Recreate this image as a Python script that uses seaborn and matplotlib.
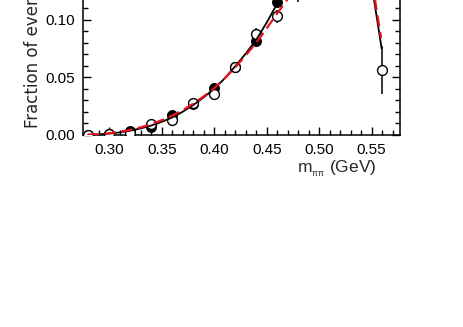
import numpy as np
import pandas as pd
import matplotlib
matplotlib.use("Agg")
import matplotlib.pyplot as plt
from matplotlib.ticker import MultipleLocator, FormatStrFormatter
import seaborn as sns

# ---- data ----
mass_filled = [0.28, 0.30, 0.32, 0.34, 0.36, 0.38, 0.40, 0.42, 0.44, 0.46]
frac_filled = [0.0000, 0.0008, 0.0035, 0.0068, 0.0168, 0.0270, 0.0406, 0.0590, 0.0817, 0.1157]
err_filled = [0.0005, 0.0007, 0.0010, 0.0015, 0.0025, 0.0035, 0.0040, 0.0045, 0.0050, 0.0055]

mass_open = [0.28, 0.30, 0.32, 0.34, 0.36, 0.38, 0.40, 0.42, 0.44, 0.46, 0.48, 0.50, 0.52, 0.54, 0.56]
frac_open = [0.0000, 0.0010, 0.0015, 0.0095, 0.0130, 0.0280, 0.0350, 0.0585, 0.0875, 0.1030,
             0.1240, 0.1500, 0.1650, 0.1500, 0.0565]
err_open = [0.0005, 0.0007, 0.0010, 0.0020, 0.0030, 0.0040, 0.0040, 0.0045, 0.0050, 0.0055,
            0.0090, 0.0090, 0.0090, 0.0100, 0.0210]

fit_solid_x = [0.280, 0.290, 0.300, 0.310, 0.320, 0.330, 0.340, 0.350, 0.360, 0.370, 0.380,
               0.390, 0.400, 0.410, 0.420, 0.430, 0.440, 0.450, 0.460, 0.470, 0.480, 0.500,
               0.520, 0.540, 0.5524, 0.5595]
fit_solid_y = [0.0000, 0.0003, 0.0010, 0.0020, 0.0035, 0.0055, 0.0080, 0.0112, 0.0150, 0.0200,
               0.0258, 0.0325, 0.0400, 0.0490, 0.0595, 0.0705, 0.0825, 0.0975, 0.1140, 0.1280,
               0.1420, 0.1630, 0.1720, 0.1580, 0.1165, 0.0750]

fit_dash_x = [0.280, 0.290, 0.300, 0.310, 0.320, 0.330, 0.340, 0.350, 0.360, 0.370, 0.380,
              0.390, 0.400, 0.410, 0.420, 0.430, 0.440, 0.450, 0.460, 0.470, 0.480, 0.500,
              0.520, 0.540, 0.5533, 0.5590]
fit_dash_y = [0.0000, 0.0005, 0.0013, 0.0025, 0.0042, 0.0064, 0.0092, 0.0126, 0.0166, 0.0214,
              0.0270, 0.0333, 0.0405, 0.0490, 0.0585, 0.0690, 0.0800, 0.0925, 0.1055, 0.1180,
              0.1320, 0.1550, 0.1700, 0.1600, 0.1165, 0.0840]

xtick_vals = [0.30, 0.35, 0.40, 0.45, 0.50, 0.55]
ytick_vals = [0.00, 0.05, 0.10, 0.15, 0.20]

# ---- style ----
sns.set_style("ticks")
plt.rcParams["font.family"] = ["Liberation Sans", "DejaVu Sans"]
plt.rcParams["mathtext.fontset"] = "custom"
plt.rcParams["mathtext.rm"] = "Liberation Sans"
plt.rcParams["mathtext.it"] = "Liberation Sans:italic"

fig = plt.figure(figsize=(4.64, 3.27), dpi=100)
ax = fig.add_axes([83 / 464, 0.588, 317 / 464, 230 / 327])

df_f = pd.DataFrame({"m": mass_filled, "f": frac_filled, "e": err_filled})
df_o = pd.DataFrame({"m": mass_open, "f": frac_open, "e": err_open})
df_s = pd.DataFrame({"m": fit_solid_x, "f": fit_solid_y})
df_d = pd.DataFrame({"m": fit_dash_x, "f": fit_dash_y})

# error bars
ax.errorbar(df_f["m"], df_f["f"], yerr=df_f["e"], fmt="none", ecolor="black",
            elinewidth=1.1, capsize=0, zorder=2)
ax.errorbar(df_o["m"], df_o["f"], yerr=df_o["e"], fmt="none", ecolor="black",
            elinewidth=1.1, capsize=0, zorder=3)

# markers
sns.scatterplot(data=df_f, x="m", y="f", ax=ax, marker="o", s=50, color="black",
                edgecolor="black", linewidth=0.8, zorder=4, legend=False)
sns.scatterplot(data=df_o, x="m", y="f", ax=ax, marker="o", s=50, color="white",
                edgecolor="black", linewidth=1.0, zorder=5, legend=False)

# fit curves
sns.lineplot(data=df_s, x="m", y="f", ax=ax, color="black", linewidth=1.3,
             sort=False, estimator=None, zorder=6)
sns.lineplot(data=df_d, x="m", y="f", ax=ax, color="#e8141c", linewidth=1.6,
             sort=False, estimator=None, zorder=7, linestyle=(0, (5, 2.5)))

ax.set_xlim(0.275, 0.577)
ax.set_ylim(0.0, 0.20)
ax.set_xticks(xtick_vals)
ax.set_yticks(ytick_vals)
ax.xaxis.set_major_formatter(FormatStrFormatter("%.2f"))
ax.yaxis.set_major_formatter(FormatStrFormatter("%.2f"))
ax.xaxis.set_minor_locator(MultipleLocator(0.01))
ax.yaxis.set_minor_locator(MultipleLocator(0.01))
ax.tick_params(which="both", direction="in", top=True, right=True, width=1.0,
               colors="black", labelsize=11)
ax.tick_params(which="major", length=6, pad=6)
ax.tick_params(which="minor", length=3.5)
for sp in ax.spines.values():
    sp.set_visible(True)
    sp.set_linewidth(1.1)
    sp.set_color("black")

ax.set_xlabel(r"m$_{_{\mathrm{\pi\pi}}}$ (GeV)", fontsize=12.5)
ax.xaxis.set_label_coords(0.80, -0.105)
ax.set_ylabel("Fraction of events", fontsize=12, loc="bottom", family="DejaVu Sans")
ax.yaxis.set_label_coords(-0.13, 0.029)

fig.savefig("out.png", dpi=100)
